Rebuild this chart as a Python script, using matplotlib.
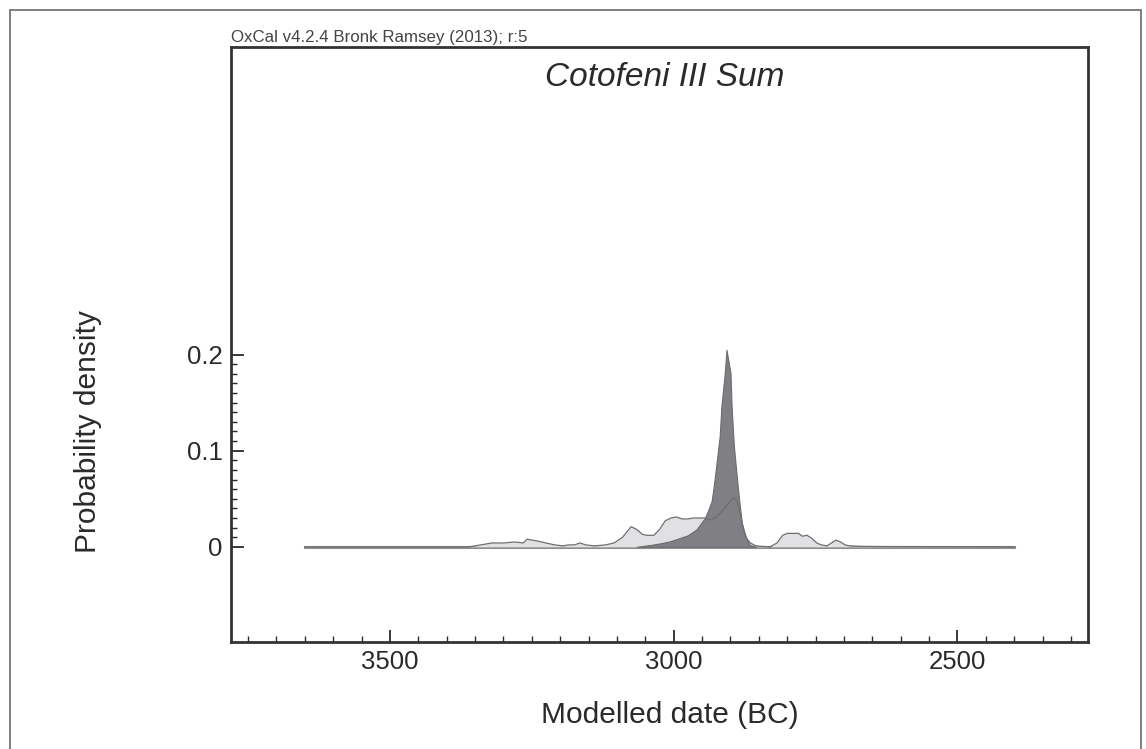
import matplotlib.pyplot as plt
import numpy as np
from matplotlib.patches import Rectangle
from matplotlib.ticker import FixedLocator, MultipleLocator

plt.rcParams["font.family"] = ["Liberation Sans", "DejaVu Sans"]

TEXT_COLOR = "#2a2a2a"

# unmodelled sum (light grey), years BC
sum_years = [3650, 3360, 3340, 3320, 3300, 3280, 3265, 3258, 3250, 3240, 3225,
             3210, 3195, 3185, 3175, 3165, 3155, 3140, 3120, 3105, 3090, 3075,
             3065, 3055, 3047, 3035, 3025, 3015, 3005, 2995, 2985, 2975, 2965,
             2955, 2945, 2935, 2925, 2915, 2905, 2897, 2893, 2888, 2883, 2878,
             2872, 2865, 2855, 2845, 2830, 2818, 2808, 2800, 2790, 2780, 2773,
             2765, 2757, 2748, 2740, 2730, 2722, 2714, 2706, 2698, 2690, 2670,
             2640, 2400]
sum_density = [0, 0, 0.002, 0.004, 0.004, 0.005, 0.004, 0.008, 0.007, 0.006, 0.004,
               0.002, 0.001, 0.002, 0.002, 0.004, 0.002, 0.001, 0.002, 0.004, 0.010, 0.021,
               0.018, 0.013, 0.012, 0.012, 0.018, 0.027, 0.030, 0.031, 0.029, 0.029, 0.030,
               0.030, 0.030, 0.028, 0.031, 0.037, 0.044, 0.050, 0.051, 0.047, 0.035, 0.020,
               0.009, 0.004, 0.001, 0.0005, 0, 0.004, 0.012, 0.014, 0.014, 0.014, 0.011,
               0.012, 0.009, 0.004, 0.002, 0.001, 0.004, 0.007, 0.005, 0.002, 0.001, 0.0005,
               0.0003, 0]

# modelled sum (dark grey)
model_years = [3065, 3040, 3020, 3005, 2990, 2975, 2960, 2950, 2945, 2938, 2933,
               2928, 2923, 2919, 2916, 2910, 2907, 2900, 2898, 2896, 2894, 2890,
               2887, 2884, 2880, 2875, 2870, 2866, 2855]
model_density = [0, 0.002, 0.004, 0.006, 0.009, 0.012, 0.018, 0.026, 0.030, 0.040, 0.048,
                 0.070, 0.095, 0.115, 0.146, 0.181, 0.205, 0.181, 0.146, 0.125, 0.105, 0.080,
                 0.062, 0.045, 0.025, 0.014, 0.006, 0.002, 0]

baseline_range = [3650, 2400]

fig = plt.figure(figsize=(11.46, 7.49), dpi=100)
ax = fig.add_axes([0.2016, 0.1429, 0.7478, 0.7943])

# outer frame of the figure
fig.patches.append(Rectangle((10 / 1146, -0.05), 1131 / 1146, 1.05 - 10 / 749,
                             transform=fig.transFigure, fill=False,
                             edgecolor="#6a6a6a", linewidth=1.2))

ax.plot(baseline_range, [0, 0], color="#8f8f8f", linewidth=2.2, zorder=1)
ax.fill_between(sum_years, sum_density, color="#e1e1e3", linewidth=0, zorder=2)
ax.fill_between(model_years, model_density, color="#7f7f84",
                edgecolor="#6c6c70", linewidth=0.8, zorder=3)
ax.plot(sum_years, sum_density, color="#6e6e72", linewidth=0.9, zorder=4)

ax.set_xlim(3780, 2270)
ax.set_ylim(-0.099, 0.52)

ax.set_xticks([3500, 3000, 2500])
ax.xaxis.set_minor_locator(MultipleLocator(50))
ax.set_yticks([0, 0.1, 0.2])
ax.set_yticklabels(["0", "0.1", "0.2"])
ax.yaxis.set_minor_locator(FixedLocator(np.arange(0, 0.2, 0.01)))

ax.tick_params(which="both", direction="in", colors=TEXT_COLOR, labelsize=18.5,
               top=False, right=False)
ax.tick_params(which="major", length=9, width=1.3)
ax.tick_params(which="minor", length=4.5, width=1.0)
ax.tick_params(axis="x", pad=6)
ax.tick_params(axis="y", pad=6)

for spine in ax.spines.values():
    spine.set_linewidth(2.0)
    spine.set_color("#333333")

ax.set_xlabel("Modelled date (BC)", fontsize=21.5, color=TEXT_COLOR)
ax.xaxis.set_label_coords(0.512, -0.1)
ax.set_ylabel("Probability density", fontsize=21.5, color=TEXT_COLOR)
ax.yaxis.set_label_coords(-0.15, 0.353)

ax.text(0.506, 0.975, "Cotofeni III Sum", transform=ax.transAxes, ha="center",
        va="top", fontsize=24, style="italic", color=TEXT_COLOR)
ax.text(0.0, 1.003, "OxCal v4.2.4 Bronk Ramsey (2013); r:5", transform=ax.transAxes,
        ha="left", va="bottom", fontsize=12.2, color="#444444")

plt.savefig("out.png", dpi=100)
plt.close(fig)
